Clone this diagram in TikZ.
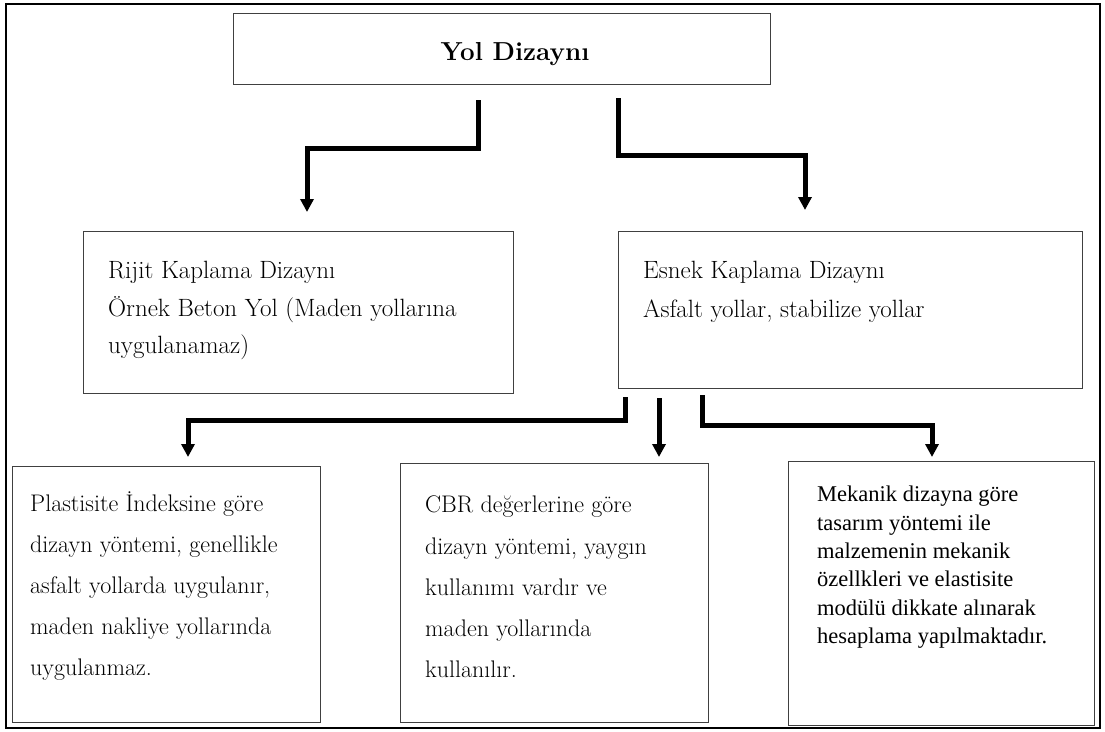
\documentclass[tikz,border=0pt]{standalone}
\usepackage{fontspec}
\usepackage{tikz}
\usetikzlibrary{calc,arrows.meta}
\newfontfamily\tnr{LiberationSerif}[Extension=.ttf, UprightFont=*-Regular]

\tikzset{
  box/.style={draw=black!75, line width=1.2pt, anchor=north west, inner sep=0pt},
  boxtext/.style={anchor=north west, inner sep=0pt, align=left},
  conn/.style={line width=5pt, -{Triangle[width=13pt,length=13pt]}}
}

\begin{document}
\begin{tikzpicture}[x=1pt,y=-1pt]
\useasboundingbox (0,0) rectangle (1105,731);
\draw [line width=2.5pt] (6,4) rectangle (1100,728);
% boxes
\node [box, minimum width=537pt, minimum height=71pt] (yol) at (233,13) {};
\node [font=\bfseries\fontsize{26}{30}\selectfont] (yoltxt) at (515,54) {Yol Dizaynı};
\node [box, minimum width=430pt, minimum height=162pt] (rijit) at (83,231) {};
\node [box, minimum width=464pt, minimum height=157pt] (esnek) at (618,231) {};
\node [box, minimum width=308pt, minimum height=256pt] (plast) at (12,466) {};
\node [box, minimum width=308pt, minimum height=259pt] (cbr) at (400,463) {};
\node [box, minimum width=306pt, minimum height=264pt] (mek) at (788,461) {};
% texts
\node [boxtext, font=\fontsize{25}{37.5}\selectfont] (rijittxt) at (108,261)
  {Rijit Kaplama Dizaynı\\Örnek Beton Yol (Maden yollarına\\uygulanamaz)};
\node [boxtext, font=\fontsize{25}{39}\selectfont] (esnektxt) at (643,261)
  {Esnek Kaplama Dizaynı\\Asfalt yollar, stabilize yollar};
\node [boxtext, font=\fontsize{24}{41.2}\selectfont] (plasttxt) at (30,491)
  {Plastisite İndeksine göre\\dizayn yöntemi, genellikle\\asfalt yollarda uygulanır,\\maden nakliye yollarında\\uygulanmaz.};
\node [boxtext, font=\fontsize{24}{41.2}\selectfont] (cbrtxt) at (425,496)
  {CBR değerlerine göre\\dizayn yöntemi, yaygın\\kullanımı vardır ve\\maden yollarında\\kullanılır.};
\node [boxtext, font=\tnr\fontsize{22.5}{28.3}\selectfont] (mektxt) at (817,486)
  {Mekanik dizayna göre\\tasarım yöntemi ile\\malzemenin mekanik\\özellkleri ve elastisite\\modülü dikkate alınarak\\hesaplama yapılmaktadır.};
% connector ends
\coordinate (yol-l) at (478,100);
\coordinate (yol-r) at (618,98);
\coordinate (rijit-in) at (307,212);
\coordinate (esnek-in) at (805,210);
\coordinate (esnek-l) at (625,397);
\coordinate (esnek-m) at (659,398);
\coordinate (esnek-r) at (702,395);
\coordinate (plast-in) at (188,457);
\coordinate (cbr-in) at (659,457);
\coordinate (mek-in) at (932,457);
% connectors
\draw [conn] (yol-l) -- ++(0,48) -| (rijit-in);
\draw [conn] (yol-r) -- ++(0,57) -| (esnek-in);
\draw [conn] (esnek-l) -- ++(0,23) -| (plast-in);
\draw [conn] (esnek-m) -- (cbr-in);
\draw [conn] (esnek-r) -- ++(0,30) -| (mek-in);
\end{tikzpicture}
\end{document}
